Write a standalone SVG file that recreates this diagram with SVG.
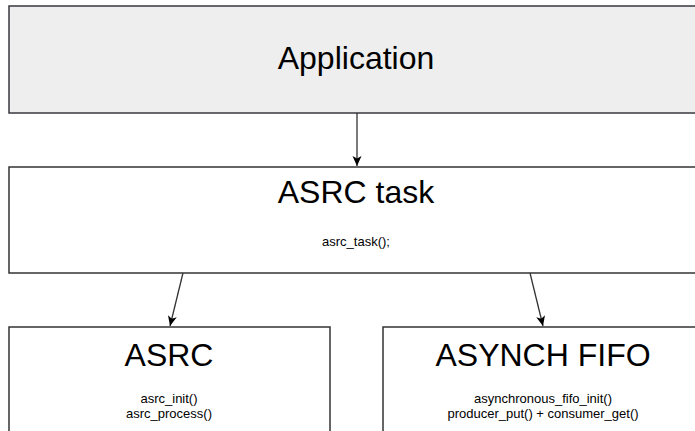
<svg xmlns="http://www.w3.org/2000/svg" width="695" height="431" viewBox="0 0 695 431">
<style>
  .box { fill: #ffffff; stroke: #333333; stroke-width: 1.5; }
  .app { fill: #eeeeee; stroke: #36393d; stroke-width: 1.5; }
  .title { font-family: "Liberation Sans", Arial, sans-serif; font-size: 32px; fill: #000; text-anchor: middle; }
  .sub { font-family: "Liberation Sans", Arial, sans-serif; font-size: 13px; fill: #000; text-anchor: middle; }
  .conn { stroke: #333333; stroke-width: 1.3; fill: none; }
</style>
<defs>
  <marker id="arrow" viewBox="0 0 10 10" refX="10" refY="5" markerWidth="10" markerHeight="10" markerUnits="userSpaceOnUse" orient="auto">
    <path d="M0,0.5 L10,5 L0,9.5 L2.5,5 z" fill="#000"/>
  </marker>
</defs>
<rect width="695" height="431" fill="#ffffff"/>
<g id="application">
  <rect class="app" x="9" y="6" width="696" height="107"/>
  <text class="title" x="356" y="69">Application</text>
</g>
<g id="asrc-task">
  <rect class="box" x="9" y="167" width="696" height="106"/>
  <text class="title" x="356" y="203">ASRC task</text>
  <text class="sub" x="356" y="246">asrc_task();</text>
</g>
<g id="asrc">
  <rect class="box" x="9" y="327" width="321" height="120"/>
  <text class="title" x="169" y="366">ASRC</text>
  <text class="sub" x="169" y="403">asrc_init()</text>
  <text class="sub" x="169" y="418">asrc_process()</text>
</g>
<g id="asynch-fifo">
  <rect class="box" x="383" y="327" width="321" height="120"/>
  <text class="title" x="543" y="366">ASYNCH FIFO</text>
  <text class="sub" x="543" y="403">asynchronous_fifo_init()</text>
  <text class="sub" x="543" y="418">producer_put() + consumer_get()</text>
</g>
<g id="connectors">
  <line class="conn" x1="357" y1="113" x2="357" y2="166" marker-end="url(#arrow)"/>
  <line class="conn" x1="183" y1="273" x2="170" y2="326" marker-end="url(#arrow)"/>
  <line class="conn" x1="530" y1="273" x2="543" y2="326" marker-end="url(#arrow)"/>
</g>
</svg>
